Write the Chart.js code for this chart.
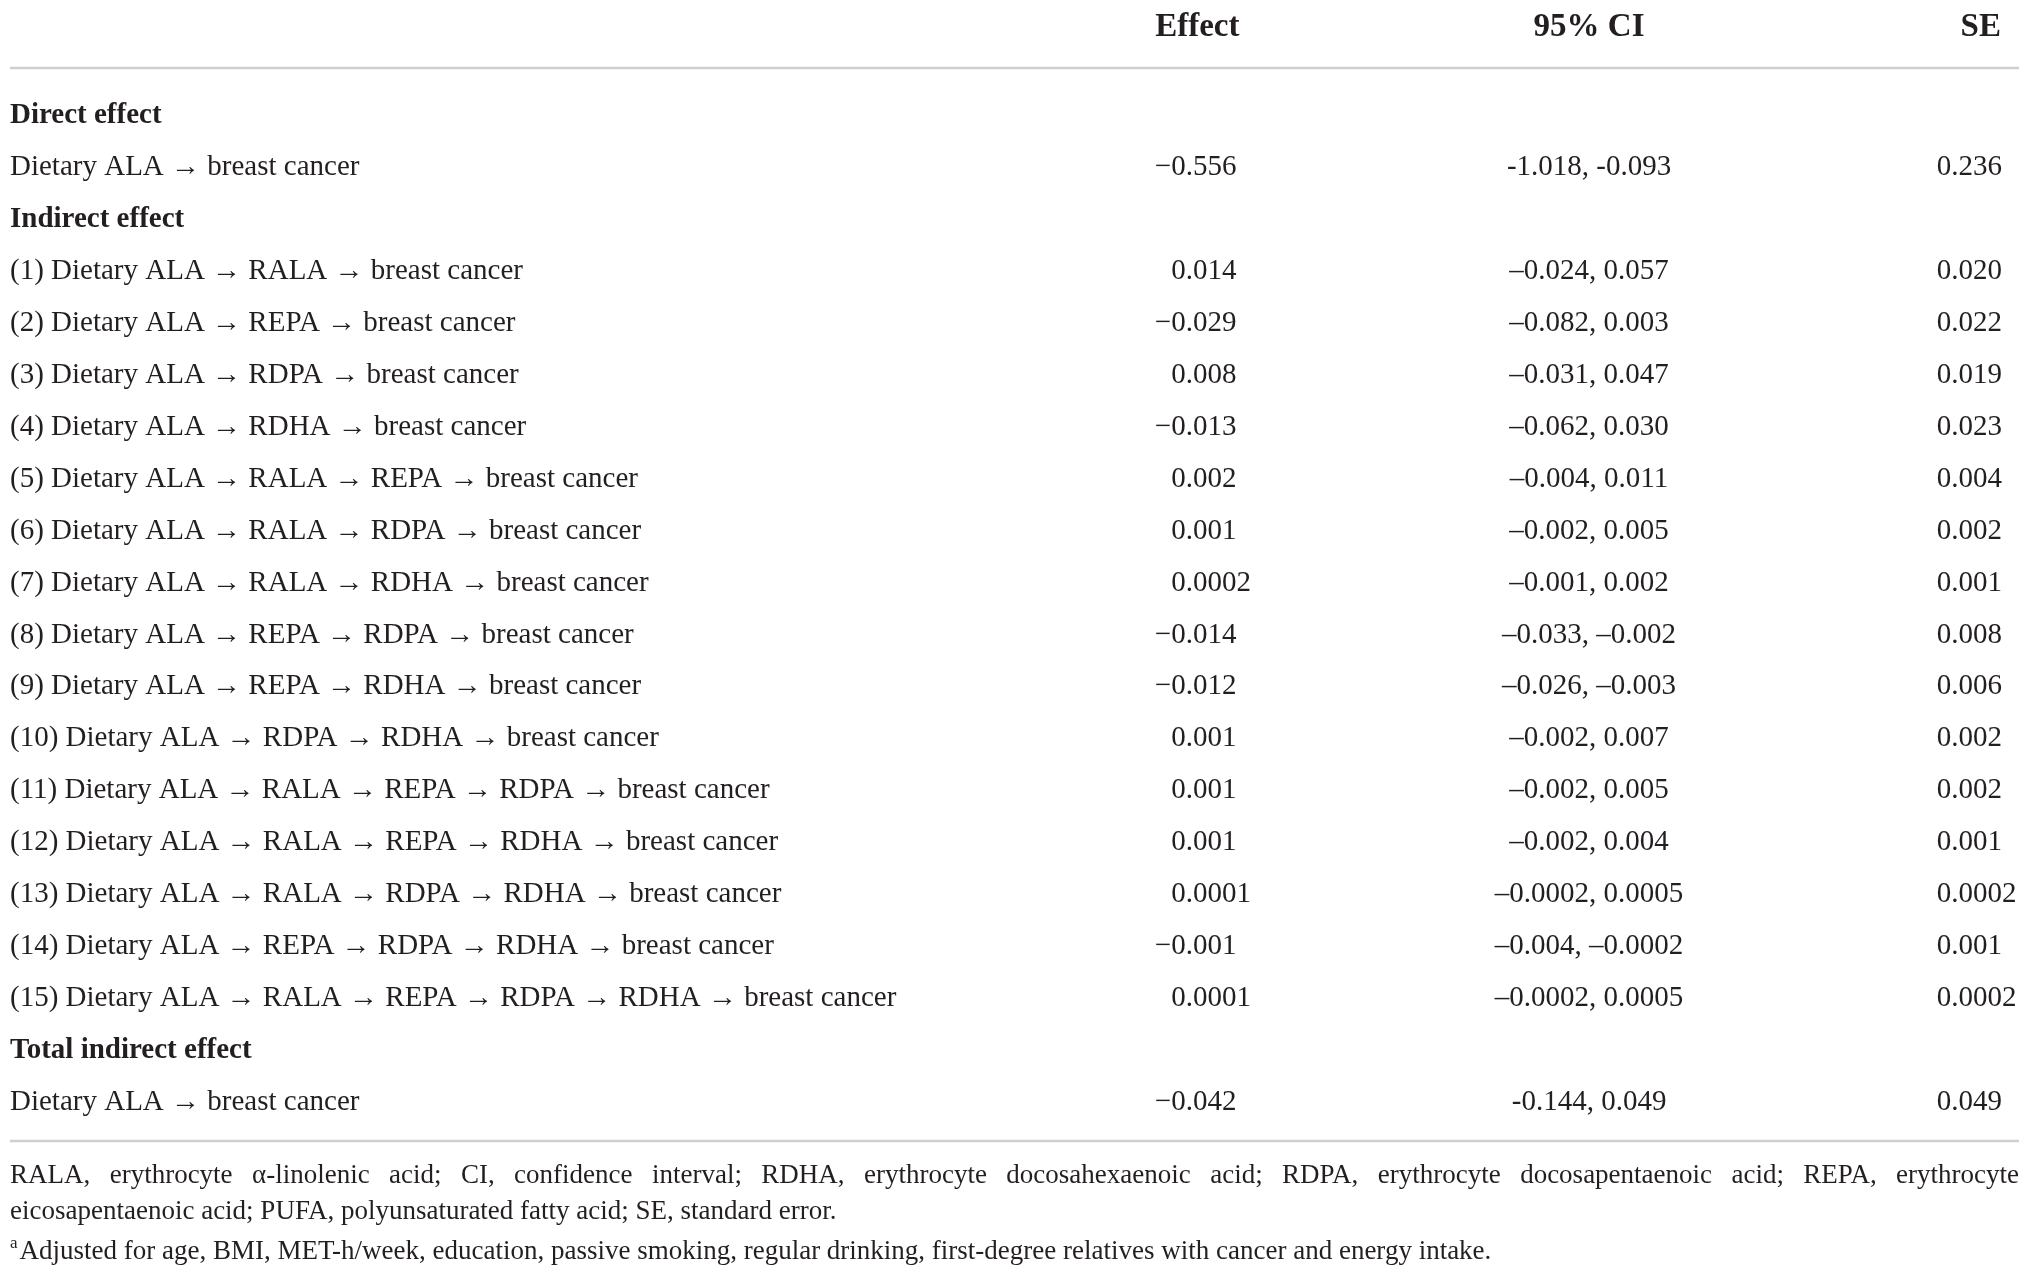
<!DOCTYPE html>
<html>
<head>
<meta charset="utf-8">
<title>Mediation effects</title>
<script src="https://cdn.jsdelivr.net/npm/chart.js@4.4.1/dist/chart.umd.min.js"></script>
<style>
    html, body { margin: 0; padding: 0; background: #fff; }
    #wrap { width: 2029px; height: 1274px; position: relative; }
</style>
</head>
<body>
<div id="wrap"><canvas id="table-chart"></canvas></div>
<script>
// --------data------
const columnHeaders = ['Effect', '95% CI', 'SE'];

const rowLabels = [
    'Direct effect',
    'Dietary ALA \u2192 breast cancer',
    'Indirect effect',
    '(1) Dietary ALA \u2192 RALA \u2192 breast cancer',
    '(2) Dietary ALA \u2192 REPA \u2192 breast cancer',
    '(3) Dietary ALA \u2192 RDPA \u2192 breast cancer',
    '(4) Dietary ALA \u2192 RDHA \u2192 breast cancer',
    '(5) Dietary ALA \u2192 RALA \u2192 REPA \u2192 breast cancer',
    '(6) Dietary ALA \u2192 RALA \u2192 RDPA \u2192 breast cancer',
    '(7) Dietary ALA \u2192 RALA \u2192 RDHA \u2192 breast cancer',
    '(8) Dietary ALA \u2192 REPA \u2192 RDPA \u2192 breast cancer',
    '(9) Dietary ALA \u2192 REPA \u2192 RDHA \u2192 breast cancer',
    '(10) Dietary ALA \u2192 RDPA \u2192 RDHA \u2192 breast cancer',
    '(11) Dietary ALA \u2192 RALA \u2192 REPA \u2192 RDPA \u2192 breast cancer',
    '(12) Dietary ALA \u2192 RALA \u2192 REPA \u2192 RDHA \u2192 breast cancer',
    '(13) Dietary ALA \u2192 RALA \u2192 RDPA \u2192 RDHA \u2192 breast cancer',
    '(14) Dietary ALA \u2192 REPA \u2192 RDPA \u2192 RDHA \u2192 breast cancer',
    '(15) Dietary ALA \u2192 RALA \u2192 REPA \u2192 RDPA \u2192 RDHA \u2192 breast cancer',
    'Total indirect effect',
    'Dietary ALA \u2192 breast cancer'
];

const sectionRows = ['Direct effect', 'Indirect effect', 'Total indirect effect'];

const effects = [
    '', '\u22120.556', '',
    '0.014', '\u22120.029', '0.008', '\u22120.013', '0.002', '0.001', '0.0002',
    '\u22120.014', '\u22120.012', '0.001', '0.001', '0.001', '0.0001', '\u22120.001', '0.0001',
    '', '\u22120.042'
];

const ciValues = [
    '', '-1.018, -0.093', '',
    '\u20130.024, 0.057', '\u20130.082, 0.003', '\u20130.031, 0.047', '\u20130.062, 0.030',
    '\u20130.004, 0.011', '\u20130.002, 0.005', '\u20130.001, 0.002', '\u20130.033, \u20130.002',
    '\u20130.026, \u20130.003', '\u20130.002, 0.007', '\u20130.002, 0.005', '\u20130.002, 0.004',
    '\u20130.0002, 0.0005', '\u20130.004, \u20130.0002', '\u20130.0002, 0.0005',
    '', '-0.144, 0.049'
];

const seValues = [
    '', '0.236', '',
    '0.020', '0.022', '0.019', '0.023', '0.004', '0.002', '0.001',
    '0.008', '0.006', '0.002', '0.002', '0.001', '0.0002', '0.001', '0.0002',
    '', '0.049'
];

const footnoteAbbrev = 'RALA, erythrocyte \u03b1-linolenic acid; CI, confidence interval; RDHA, erythrocyte docosahexaenoic acid; RDPA, erythrocyte docosapentaenoic acid; REPA, erythrocyte';
const footnoteAbbrev2 = 'eicosapentaenoic acid; PUFA, polyunsaturated fatty acid; SE, standard error.';
const footnoteAdjusted = 'Adjusted for age, BMI, MET-h/week, education, passive smoking, regular drinking, first-degree relatives with cancer and energy intake.';

// --------layout------
const FONT = '"Liberation Serif", "DejaVu Serif", serif';
const BODY_SIZE = 29;
const HEAD_SIZE = 33;
const NOTE_SIZE = 27;
const TEXT_COLOR = '#231f20';
const RULE_COLOR = '#cfcfcf';
// column anchors on the x scale (0..100 = table width)
const colAnchor = { label: 0, effect: 57.8, ci: 78.6, se: 95.9 };
const headerAnchor = { effect: 59.1, ci: 78.6, se: 99.1 };

function pointsFor(values, col){
    const pts = [];
    for (let i = 0; i < rowLabels.length; i++){
        if (values[i] !== '') pts.push({x: col, y: i, text: values[i]});
    }
    return pts;
}

const tablePlugin = {
    id: 'tableText',
    afterDatasetsDraw(chart){
        const ctx = chart.ctx;
        const area = chart.chartArea;
        const xs = chart.scales.x;
        ctx.save();
        ctx.fillStyle = TEXT_COLOR;
        ctx.textBaseline = 'middle';

        // cells
        chart.data.datasets.forEach(function(ds, di){
            const meta = chart.getDatasetMeta(di);
            meta.data.forEach(function(el, i){
                const t = ds.data[i].text;
                const bold = ds.kind === 'label' && sectionRows.indexOf(t) >= 0;
                ctx.font = (bold ? 'bold ' : '') + BODY_SIZE + 'px ' + FONT;
                if (ds.kind === 'ci'){
                    ctx.textAlign = 'center';
                    ctx.fillText(t, el.x, el.y);
                } else {
                    ctx.textAlign = 'left';
                    let x = el.x;
                    if (ds.kind !== 'label' && t.charAt(0) === '\u2212'){
                        x -= ctx.measureText('\u2212').width;
                    }
                    ctx.fillText(t, x, el.y);
                }
            });
        });

        // header
        const headY = area.top - 63;
        ctx.font = 'bold ' + HEAD_SIZE + 'px ' + FONT;
        ctx.textAlign = 'center';
        ctx.fillText(columnHeaders[0], xs.getPixelForValue(headerAnchor.effect), headY);
        ctx.fillText(columnHeaders[1], xs.getPixelForValue(headerAnchor.ci), headY);
        ctx.textAlign = 'right';
        ctx.fillText(columnHeaders[2], xs.getPixelForValue(headerAnchor.se), headY);

        // rules
        ctx.strokeStyle = RULE_COLOR;
        ctx.lineWidth = 2.5;
        ctx.beginPath();
        ctx.moveTo(area.left, area.top - 22);
        ctx.lineTo(area.right, area.top - 22);
        ctx.moveTo(area.left, area.bottom + 13);
        ctx.lineTo(area.right, area.bottom + 13);
        ctx.stroke();

        // footnotes, first line justified
        ctx.font = NOTE_SIZE + 'px ' + FONT;
        ctx.textAlign = 'left';
        const words = footnoteAbbrev.split(' ');
        let wsum = 0;
        words.forEach(function(w){ wsum += ctx.measureText(w).width; });
        const gap = (area.right - area.left - wsum) / (words.length - 1);
        let fx = area.left;
        words.forEach(function(w){
            ctx.fillText(w, fx, area.bottom + 48);
            fx += ctx.measureText(w).width + gap;
        });
        ctx.fillText(footnoteAbbrev2, area.left, area.bottom + 84);
        ctx.font = Math.round(NOTE_SIZE * 0.62) + 'px ' + FONT;
        ctx.fillText('a', area.left, area.bottom + 116);
        const supW = ctx.measureText('a').width + 2;
        ctx.font = NOTE_SIZE + 'px ' + FONT;
        ctx.fillText(footnoteAdjusted, area.left + supW, area.bottom + 124);

        ctx.restore();
    }
};

new Chart('table-chart', {
    type: 'scatter',
    data: {
        datasets: [
            { kind: 'label', data: pointsFor(rowLabels, colAnchor.label) },
            { kind: 'effect', data: pointsFor(effects, colAnchor.effect) },
            { kind: 'ci', data: pointsFor(ciValues, colAnchor.ci) },
            { kind: 'se', data: pointsFor(seValues, colAnchor.se) }
        ]
    },
    options: {
        responsive: true,
        maintainAspectRatio: false,
        animation: false,
        layout: { padding: { top: 90, bottom: 146, left: 10, right: 10 } },
        elements: { point: { radius: 0, hoverRadius: 0 } },
        plugins: { legend: { display: false }, tooltip: { enabled: false } },
        scales: {
            x: { type: 'linear', min: 0, max: 100, display: false },
            // one unit per table row, row 0 at the top
            y: { type: 'linear', min: -0.5, max: rowLabels.length - 0.5, reverse: true, display: false }
        }
    },
    plugins: [tablePlugin]
});
</script>
</body>
</html>
